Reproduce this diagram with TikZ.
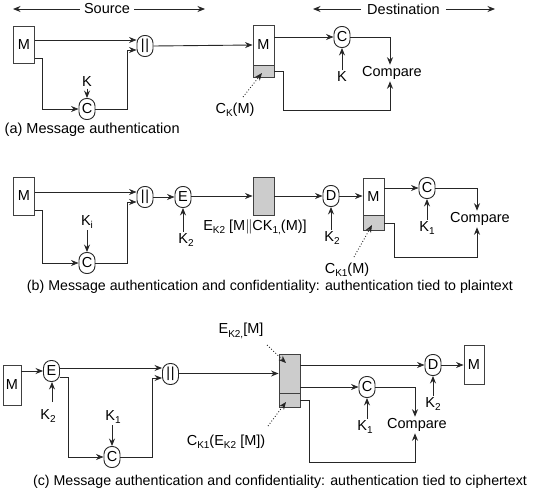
\documentclass[tikz,border=0pt]{standalone}
\usepackage{fontspec}
\setmainfont{Liberation Sans}
\usetikzlibrary{arrows.meta}
\newcommand\sbs[1]{\raisebox{-0.45ex}{\fontsize{10}{10}\selectfont #1}}
\newcommand\dbar{|\kern0.6pt|}
\begin{document}
\begin{tikzpicture}[x=1pt,y=-1pt,
  every node/.style={font=\fontsize{14.5}{17}\selectfont, inner sep=1.5pt},
  captxt/.style={font=\fontsize{14.2}{17}\selectfont},
  box/.style={draw=black!75, line width=0.9pt, minimum width=21pt, inner sep=0pt},
  gbox/.style={box, fill=black!20},
  op/.style={draw=black!85, line width=0.9pt, rounded corners=7.5pt, minimum width=16pt, minimum height=21pt, inner sep=0pt},
  ln/.style={draw=black!85, line width=0.9pt},
  arr/.style={ln, -{Stealth[length=7.5pt,width=6pt]}},
  dotarr/.style={draw=black!85, line width=0.9pt, dotted, -{Stealth[length=7.5pt,width=6pt]}}]
\useasboundingbox (0,0) rectangle (533,490);

% ---------- headers
\node[inner xsep=4pt] (src) at (107,9) {Source};
\coordinate (srcl) at (13,9);
\coordinate (srcr) at (205,9);
\draw[arr] (src.west) -- (srcl);
\draw[arr] (src.east) -- (srcr);
\node[inner xsep=6pt] (dst) at (403.5,9) {Destination};
\coordinate (dstl) at (313,9);
\coordinate (dstr) at (495,9);
\draw[arr] (dst.west) -- (dstl);
\draw[arr] (dst.east) -- (dstr);

% ---------- (a)
\node[box, minimum height=37pt] (Ma) at (24,44.5) {M};
\node[op] (Pa) at (145,46) {\dbar};
\node[op] (Ca) at (87,109) {C};
\node (Ka) at (87,82) {K};
\coordinate (a1) at (42,58);
\coordinate (a2) at (42,109);
\coordinate (a3) at (127,109);
\coordinate (a4) at (127,50);
\draw[arr] (Ma.east |- 0,40) -- (Pa.west |- 0,40);
\draw[arr] (Ma.east |- a1) -- (a1) -- (a2) -- (Ca.west);
\draw[arr] (Ca.east) -- (a3) -- (a4) -- (Pa.west |- a4);
\draw[arr] (Ka.south) -- (Ca.north);
\node[box, minimum height=40pt] (Mda) at (263.5,45) {M};
\node[gbox, minimum height=12pt] (Gda) at (263.5,71) {};
\draw[arr] (Pa.east) -- (Mda.west);
\node[op] (Cda) at (342,37) {C};
\node (Kda) at (342,77) {K};
\node (cmpa) at (392,73) {Compare};
\coordinate (a5) at (390,37);
\coordinate (a6) at (283,71);
\coordinate (a7) at (283,110);
\coordinate (a8) at (390,110);
\draw[arr] (Mda.east |- Cda) -- (Cda.west);
\draw[arr] (Kda.north) -- (Cda.south);
\draw[arr] (Cda.east) -- (a5) -- (cmpa.north -| a5);
\draw[arr] (Gda.east) -- (a6) -- (a7) -- (a8) -- (cmpa.south -| a8);
\node (cka) at (235,110) {C\sbs{K}(M)};
\coordinate (cka1) at (243,97);
\coordinate (cka2) at (262,73);
\draw[dotarr] (cka1) -- (cka2);
\node[anchor=west] (capa) at (3,130) {(a) Message authentication};

% ---------- (b)
\node[box, minimum height=38pt] (Mb) at (24,196) {M};
\node[op] (Pb) at (145,197) {\dbar};
\node[op] (Cb) at (87,263) {C};
\node (Kib) at (87,222) {K\sbs{i}};
\coordinate (b1) at (42,210);
\coordinate (b2) at (42,263);
\coordinate (b3) at (127,263);
\coordinate (b4) at (127,202);
\draw[arr] (Mb.east |- 0,192) -- (Pb.west |- 0,192);
\draw[arr] (Mb.east |- b1) -- (b1) -- (b2) -- (Cb.west);
\draw[arr] (Cb.east) -- (b3) -- (b4) -- (Pb.west |- b4);
\draw[arr] (Kib.south) -- (Cb.north);
\node[op] (Eb) at (183,197) {E};
\node (K2b) at (186,240) {K\sbs{2}};
\draw[arr] (Pb.east) -- (Eb.west);
\draw[arr] (K2b.north -| Eb) -- (Eb.south);
\node[gbox, minimum height=38pt] (Gb) at (263.5,196) {};
\draw[arr] (Eb.east |- Gb) -- (Gb.west);
\node (Elb) at (255,227) {E\sbs{K2} [M$\|$CK\sbs{1,}(M)]};
\node[op] (Db) at (331,196) {D};
\node (K2b2) at (332,238) {K\sbs{2}};
\draw[arr] (Gb.east) -- (Db.west);
\draw[arr] (K2b2.north -| Db) -- (Db.south);
\node[box, minimum height=37pt] (Mb2) at (373.5,196.5) {M};
\node[gbox, minimum height=15pt] (Gb2) at (373.5,222.5) {};
\draw[arr] (Db.east) -- (Mb2.west |- Db);
\node[op] (Cb2) at (427,188) {C};
\node (K1b) at (427,228) {K\sbs{1}};
\node (cmpb) at (480,219) {Compare};
\coordinate (b5) at (477,188);
\coordinate (b6) at (394,223);
\coordinate (b7) at (394,257);
\coordinate (b8) at (477,257);
\draw[arr] (Mb2.east |- Cb2) -- (Cb2.west);
\draw[arr] (K1b.north) -- (Cb2.south);
\draw[arr] (Cb2.east) -- (b5) -- (cmpb.north -| b5);
\draw[arr] (Gb2.east |- b6) -- (b6) -- (b7) -- (b8) -- (cmpb.south -| b8);
\node (ckb) at (347,270) {C\sbs{K1}(M)};
\coordinate (ckb1) at (354,257);
\coordinate (ckb2) at (372,225);
\draw[dotarr] (ckb1) -- (ckb2);
\node[captxt] (capb) at (270,287) {(b) Message authentication and confidentiality: authentication tied to plaintext};

% ---------- (c)
\node[box, minimum width=18pt, minimum height=40pt] (Mc) at (12,385) {M};
\node[op] (Ec) at (51.5,371) {E};
\node (K2c) at (48,416) {K\sbs{2}};
\coordinate (c0) at (52,402);
\draw[arr] (Mc.east |- Ec) -- (Ec.west);
\draw[arr] (c0) -- (Ec.south -| c0);
\node[op] (Pc) at (170.5,374) {\dbar};
\node[op] (Cc) at (112,457) {C};
\node (K1c) at (113,417) {K\sbs{1}};
\coordinate (c1) at (68,377);
\coordinate (c2) at (68,457);
\coordinate (c3) at (152,457);
\coordinate (c4) at (152,378);
\draw[arr] (Ec.east |- 0,368) -- (Pc.west |- 0,368);
\draw[ln] (Ec.east |- c1) -- (c1);
\draw[arr] (c1) -- (c2) -- (Cc.west);
\draw[arr] (Cc.east) -- (c3) -- (c4) -- (Pc.west |- c4);
\draw[arr] (K1c.south -| Cc) -- (Cc.north);
\node[gbox, minimum height=39pt] (Gc) at (289.5,373.5) {};
\node[gbox, minimum height=14pt] (Gc2) at (289.5,400) {};
\draw[arr] (Pc.east |- Gc) -- (Gc.west);
\node (Ekc) at (241,331) {E\sbs{K2,}[M]};
\coordinate (ekc1) at (267,345);
\coordinate (ekc2) at (286,363);
\draw[dotarr] (ekc1) -- (ekc2);
\node (ckc) at (226,442) {C\sbs{K1}(E\sbs{K2} [M])};
\coordinate (ckc1) at (268,426);
\coordinate (ckc2) at (286,402);
\draw[dotarr] (ckc1) -- (ckc2);
\node[op] (Dc) at (433,365) {D};
\node[box, minimum width=20pt, minimum height=39pt] (Mc2) at (474,364.5) {M};
\node (K2c2) at (433,404) {K\sbs{2}};
\draw[arr] (Gc.east |- Dc) -- (Dc.west);
\draw[arr] (Dc.east) -- (Mc2.west |- Dc);
\draw[arr] (K2c2.north) -- (Dc.south);
\node[op] (Cc2) at (367,387) {C};
\node (K1c2) at (365,427) {K\sbs{1}};
\node (cmpc) at (417,425) {Compare};
\coordinate (c5) at (415,387);
\coordinate (c6) at (309,400);
\coordinate (c7) at (309,462);
\coordinate (c8) at (415,462);
\draw[arr] (Gc.east |- Cc2) -- (Cc2.west);
\draw[arr] (K1c2.north -| Cc2) -- (Cc2.south);
\draw[arr] (Cc2.east) -- (c5) -- (cmpc.north -| c5);
\draw[arr] (Gc2.east) -- (c6) -- (c7) -- (c8) -- (cmpc.south -| c8);
\node[captxt] (capc) at (280,482) {(c) Message authentication and confidentiality: authentication tied to ciphertext};
\end{tikzpicture}
\end{document}
